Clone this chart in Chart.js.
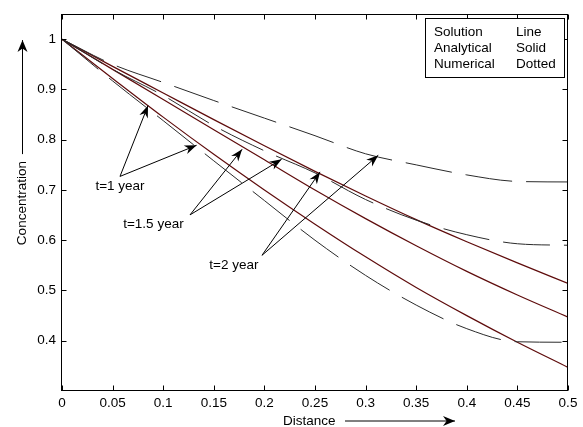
<!DOCTYPE html>
<html>
<head>
<meta charset="utf-8">
<script src="https://cdn.jsdelivr.net/npm/chart.js@4"></script>
<style>
  html, body { margin: 0; padding: 0; background: #fff; }
  #wrap { width: 583px; height: 427px; }
</style>
</head>
<body>
<div id="wrap"><canvas id="conc-chart" width="583" height="427"></canvas></div>
<script>
// distance along the column and concentration profiles
const distance = [0, 0.05, 0.1, 0.15, 0.2, 0.25, 0.3, 0.35, 0.4, 0.45, 0.5];

const analytical1yr = [1.0, 0.922, 0.845, 0.771, 0.70, 0.632, 0.567, 0.506, 0.45, 0.397, 0.347];
const analytical15yr = [1.0, 0.94, 0.88, 0.82, 0.76, 0.70, 0.643, 0.589, 0.538, 0.491, 0.447];
const analytical2yr = [1.0, 0.946, 0.893, 0.84, 0.788, 0.737, 0.688, 0.641, 0.597, 0.555, 0.514];

const numerical1yr = [1.0, 0.917, 0.838, 0.758, 0.679, 0.60, 0.53, 0.471, 0.424, 0.398, 0.397];
const numerical15yr = [1.0, 0.94, 0.888, 0.828, 0.778, 0.734, 0.681, 0.64, 0.611, 0.593, 0.59];
const numerical2yr = [1.0, 0.95, 0.914, 0.878, 0.843, 0.808, 0.772, 0.75, 0.73, 0.717, 0.716];

const xTicks = [0, 0.05, 0.1, 0.15, 0.2, 0.25, 0.3, 0.35, 0.4, 0.45, 0.5];
const yTicks = [0.4, 0.5, 0.6, 0.7, 0.8, 0.9, 1];

const legendRows = [
  ['Solution', 'Line'],
  ['Analytical', 'Solid'],
  ['Numerical', 'Dotted'],
];

// callouts: label spot, where the arrows leave from, where they point
const timeLabels = ['t=1 year', 't=1.5 year', 't=2 year'];
const labelAt = [[0.033, 0.707], [0.0605, 0.632], [0.1455, 0.5495]];
const arrowFrom = [[0.0573, 0.727], [0.1265, 0.6505], [0.1976, 0.570]];
const arrowTo = [
  [[0.085, 0.868], [0.133, 0.789]],
  [[0.178, 0.781], [0.217, 0.761]],
  [[0.255, 0.736], [0.3125, 0.769]],
];

const FAMILY = '"Liberation Sans", Arial, sans-serif';
const FONT = '13.5px ' + FAMILY;
const SOLID = '#5e0b0b';
const DASHED = '#2a2a2a';

const toPoints = (ys) => ys.map((v, i) => ({ x: distance[i], y: v }));

const solidSet = (label, ys) => ({
  label,
  data: toPoints(ys),
  borderColor: SOLID,
  borderWidth: 1.2,
  pointRadius: 0,
  cubicInterpolationMode: 'monotone',
});

const dashedSet = (label, ys) => ({
  label,
  data: toPoints(ys),
  borderColor: DASHED,
  borderWidth: 1,
  borderDash: [47, 14],
  pointRadius: 0,
  cubicInterpolationMode: 'monotone',
});

const arrowHead = (ctx, fx, fy, tx, ty, len, half) => {
  const ang = Math.atan2(ty - fy, tx - fx);
  ctx.save();
  ctx.translate(tx, ty);
  ctx.rotate(ang);
  ctx.beginPath();
  ctx.moveTo(0, 0);
  ctx.lineTo(-len, -half);
  ctx.lineTo(-len * 0.7, 0);
  ctx.lineTo(-len, half);
  ctx.closePath();
  ctx.fill();
  ctx.restore();
};

const arrow = (ctx, fx, fy, tx, ty, len, half) => {
  ctx.beginPath();
  ctx.moveTo(fx, fy);
  ctx.lineTo(tx, ty);
  ctx.stroke();
  arrowHead(ctx, fx, fy, tx, ty, len, half);
};

// axes box, inward ticks, text box, callouts and axis titles
const frameAndNotes = {
  id: 'frameAndNotes',
  afterDatasetsDraw(chart) {
    const { ctx, chartArea: a, scales: { x, y } } = chart;
    ctx.save();
    ctx.strokeStyle = '#000';
    ctx.fillStyle = '#000';
    ctx.lineWidth = 1;

    const L = Math.round(a.left) - 0.5;
    const R = Math.round(a.right) - 0.5;
    const T = Math.round(a.top) + 0.5;
    const B = Math.round(a.bottom) - 0.5;
    ctx.strokeRect(L, T, R - L, B - T);

    ctx.beginPath();
    xTicks.forEach((v) => {
      const px = Math.round(x.getPixelForValue(v)) + 0.5;
      ctx.moveTo(px, B); ctx.lineTo(px, B - 5);
      ctx.moveTo(px, T); ctx.lineTo(px, T + 5);
    });
    yTicks.forEach((v) => {
      const py = Math.round(y.getPixelForValue(v)) + 0.5;
      ctx.moveTo(L, py); ctx.lineTo(L + 5, py);
      ctx.moveTo(R, py); ctx.lineTo(R - 5, py);
    });
    ctx.stroke();

    // text box in the upper right corner
    const bx = Math.round(a.right - 143) + 0.5;
    const by = Math.round(a.top + 4) + 0.5;
    ctx.fillStyle = '#fff';
    ctx.fillRect(bx, by, 139, 59);
    ctx.strokeRect(bx, by, 139, 59);
    ctx.fillStyle = '#000';
    ctx.font = FONT;
    ctx.textBaseline = 'middle';
    ctx.textAlign = 'left';
    legendRows.forEach((row, i) => {
      const ry = a.top + 18 + i * 16;
      ctx.fillText(row[0], a.right - 134, ry);
      ctx.fillText(row[1], a.right - 52, ry);
    });

    // time callouts
    timeLabels.forEach((t, i) => {
      ctx.fillText(t, x.getPixelForValue(labelAt[i][0]), y.getPixelForValue(labelAt[i][1]));
      const fx = x.getPixelForValue(arrowFrom[i][0]);
      const fy = y.getPixelForValue(arrowFrom[i][1]);
      arrowTo[i].forEach(([tx, ty]) => {
        arrow(ctx, fx, fy, x.getPixelForValue(tx), y.getPixelForValue(ty), 12, 4.5);
      });
    });

    // axis titles with arrows
    ctx.fillText('Distance', a.left + 221, a.bottom + 30);
    arrow(ctx, a.left + 283, a.bottom + 30, a.left + 393, a.bottom + 30, 12, 5);

    ctx.save();
    ctx.translate(a.left - 40, a.top + 189);
    ctx.rotate(-Math.PI / 2);
    ctx.textAlign = 'center';
    ctx.fillText('Concentration', 0, 0);
    ctx.restore();
    arrow(ctx, a.left - 39.5, a.top + 140, a.left - 39.5, a.top + 26, 12, 5);

    ctx.restore();
  },
};

const concChart = new Chart(document.getElementById('conc-chart'), {
  type: 'line',
  data: {
    datasets: [
      dashedSet('Numerical t=2', numerical2yr),
      dashedSet('Numerical t=1.5', numerical15yr),
      dashedSet('Numerical t=1', numerical1yr),
      solidSet('Analytical t=2', analytical2yr),
      solidSet('Analytical t=1.5', analytical15yr),
      solidSet('Analytical t=1', analytical1yr),
    ],
  },
  options: {
    responsive: false,
    animation: false,
    layout: { padding: { top: 12, right: 15, left: 0, bottom: 0 } },
    plugins: {
      legend: { display: false },
      tooltip: { enabled: false },
    },
    scales: {
      x: {
        type: 'linear',
        min: 0,
        max: 0.5,
        grid: { display: false, drawTicks: false },
        border: { display: false },
        afterBuildTicks: (scale) => {
          scale.ticks = xTicks.map((v) => ({ value: v }));
        },
        afterFit: (scale) => {
          scale.height = 36;
        },
        ticks: {
          color: '#000',
          font: { family: FAMILY, size: 13.5 },
          padding: 4,
          maxRotation: 0,
          callback: (v) => String(+Number(v).toFixed(2)),
        },
      },
      y: {
        min: 0.3,
        max: 1.05,
        grid: { display: false, drawTicks: false },
        border: { display: false },
        afterBuildTicks: (scale) => {
          scale.ticks = yTicks.map((v) => ({ value: v }));
        },
        afterFit: (scale) => {
          scale.width = 62;
        },
        ticks: {
          color: '#000',
          font: { family: FAMILY, size: 13.5 },
          padding: 6,
          callback: (v) => String(+Number(v).toFixed(2)),
        },
      },
    },
  },
  plugins: [frameAndNotes],
});
</script>
</body>
</html>
